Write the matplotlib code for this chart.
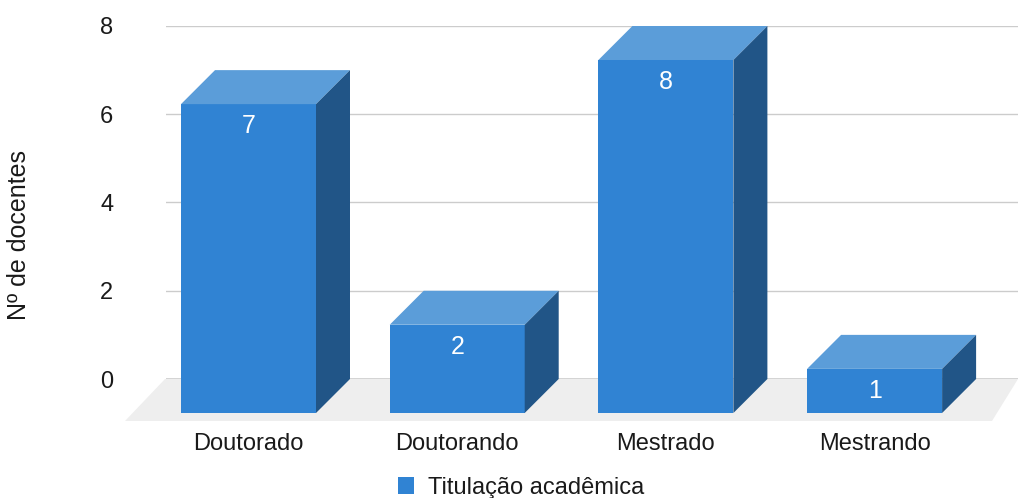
import matplotlib
matplotlib.use("Agg")
import matplotlib.pyplot as plt
from matplotlib.patches import Polygon, Patch

categories = ["Doutorado", "Doutorando", "Mestrado", "Mestrando"]
values = [7, 2, 8, 1]
y_ticks = [0, 2, 4, 6, 8]
series_name = "Titulação acadêmica"
y_label = "Nº de docentes"

FRONT = "#3083d3"
TOP = "#5b9dd9"
SIDE = "#215587"
FLOOR = "#eeeeee"
TEXT = "#1a1a1a"
FS = 17

W, H = 1018, 498
plt.rcParams["font.family"] = ["Liberation Sans", "DejaVu Sans"]
fig = plt.figure(figsize=(W / 100, H / 100), dpi=100)

# plot area: gridlines span x 166..1018 px, values 0..8 span y 379..26 px
ax = fig.add_axes([166 / W, (H - 379) / H, (W - 166) / W, (379 - 26) / H])
x_per_px = 1 / 208.7
y_per_px = 8 / (379 - 26)
ax.set_xlim((166 - 248.5) * x_per_px, (W - 248.5) * x_per_px)
ax.set_ylim(0, 8)

bar_w = 135 * x_per_px
dx = 34 * x_per_px
dy = 34 * y_per_px

# floor of the 3D box
x0, x1 = ax.get_xlim()
floor_drop = 42 * y_per_px
floor = Polygon([(x0 - 1 * x_per_px, 0), (x1, 0),
                 (x1 - 26 * x_per_px, -floor_drop),
                 (x0 - 41 * x_per_px, -floor_drop)],
                closed=True, facecolor=FLOOR, edgecolor="none",
                clip_on=False, zorder=0)
ax.add_patch(floor)

ax.set_yticks(y_ticks)
ax.grid(axis="y", color="#cccccc", linewidth=1, zorder=1)
ax.axhline(0, color="#333333", linewidth=1, zorder=1.5)
for s in ax.spines.values():
    s.set_visible(False)

for i, v in enumerate(values):
    l, r = i - bar_w / 2, i + bar_w / 2
    front = Polygon([(l, -dy), (r, -dy), (r, v - dy), (l, v - dy)],
                    closed=True, facecolor=FRONT, edgecolor="none",
                    clip_on=False, zorder=3)
    top = Polygon([(l, v - dy), (r, v - dy), (r + dx, v), (l + dx, v)],
                  closed=True, facecolor=TOP, edgecolor="none",
                  clip_on=False, zorder=3)
    side = Polygon([(r, -dy), (r + dx, 0), (r + dx, v), (r, v - dy)],
                   closed=True, facecolor=SIDE, edgecolor="none",
                   clip_on=False, zorder=3)
    for p in (front, top, side):
        ax.add_patch(p)
    ax.text(i, v - dy - 22 * y_per_px, str(v), ha="center", va="center",
            color="white", fontsize=18, zorder=4)

ax.set_xticks(range(len(categories)))
ax.set_xticklabels(categories)
ax.tick_params(axis="x", length=0, pad=39, labelsize=FS, labelcolor=TEXT)
ax.tick_params(axis="y", length=0, pad=38, labelsize=FS, labelcolor=TEXT)
ax.set_ylabel(y_label, fontsize=18, color=TEXT)
ax.yaxis.set_label_coords((31 - 166) / (W - 166), (379 - 235) / (379 - 26))

handle = Patch(facecolor=FRONT, edgecolor="none")
fig.legend([handle], [series_name], loc="center",
           bbox_to_anchor=(521 / W, 1 - 488 / H), frameon=False,
           fontsize=FS, handlelength=0.7, handleheight=0.7,
           handletextpad=0.6, labelcolor=TEXT)

fig.savefig("out.png", dpi=100)
